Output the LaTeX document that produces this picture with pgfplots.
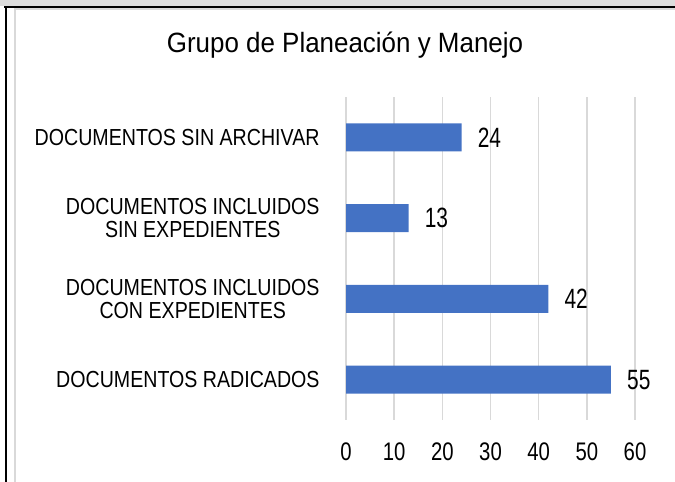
\documentclass[border=0pt]{standalone}
\usepackage{fontspec}
\setmainfont{Liberation Sans}[FakeStretch=0.82]
\newfontfamily\titlefont{Liberation Sans}[FakeStretch=0.93]
\newfontfamily\catfont{Liberation Sans}[FakeStretch=0.845]
\newfontfamily\tickfont{Liberation Sans}[FakeStretch=0.80]
\newfontfamily\valfont{Liberation Sans}[FakeStretch=0.75]
\usepackage{pgfplots}
\pgfplotsset{compat=1.18}
\definecolor{barblue}{HTML}{4472C4}
\definecolor{gridgray}{HTML}{D9D9D9}
\definecolor{bandgray}{HTML}{DDDDDD}
\begin{document}
\begin{tikzpicture}[x=1bp,y=1bp]
\path[use as bounding box] (0,0) rectangle (675,482);
\fill[bandgray] (0,476) rectangle (675,482);
\draw[line width=2bp,black] (4,475) -- (675,475);
\draw[line width=2.5bp,black] (6.2,0) -- (6.2,476);
\draw[line width=1.5bp,gridgray] (15,0) -- (15,473) -- (675,473);
\begin{axis}[
  at={(346bp,62bp)}, anchor=south west,
  scale only axis, width=289bp, height=323bp,
  xbar, bar width=28bp,
  xmin=0, xmax=60, ymin=-0.5, ymax=3.5,
  axis line style={draw=none}, tick style={draw=none},
  xmajorgrids, grid style={gridgray, line width=1.5bp},
  xtick={0,10,20,30,40,50,60},
  ytick={0,1,2,3},
  yticklabels={DOCUMENTOS RADICADOS, {DOCUMENTOS INCLUIDOS\\CON EXPEDIENTES}, {DOCUMENTOS INCLUIDOS\\SIN EXPEDIENTES}, DOCUMENTOS SIN ARCHIVAR},
  /pgf/number format/assume math mode=true,
  xticklabel style={font=\tickfont\fontsize{25.5}{25.5}\selectfont, inner sep=0pt, yshift=-23bp, text=black},
  yticklabel style={font=\catfont\fontsize{23.3}{23.3}\selectfont, align=center, inner sep=0pt, xshift=-22bp, text=black},
  nodes near coords,
  nodes near coords style={font=\valfont\fontsize{28}{28}\selectfont, anchor=west, inner sep=0pt, xshift=16bp, text=black},
  title={Grupo de Planeación y Manejo},
  title style={at={(axis description cs:0,1)}, anchor=base, xshift=-1bp, yshift=39bp, font=\titlefont\fontsize{28}{28}\selectfont, text=black, inner sep=0pt},
]
\addplot[fill=barblue, draw=none] coordinates {(55,0) (42,1) (13,2) (24,3)};
\end{axis}
\end{tikzpicture}
\end{document}
